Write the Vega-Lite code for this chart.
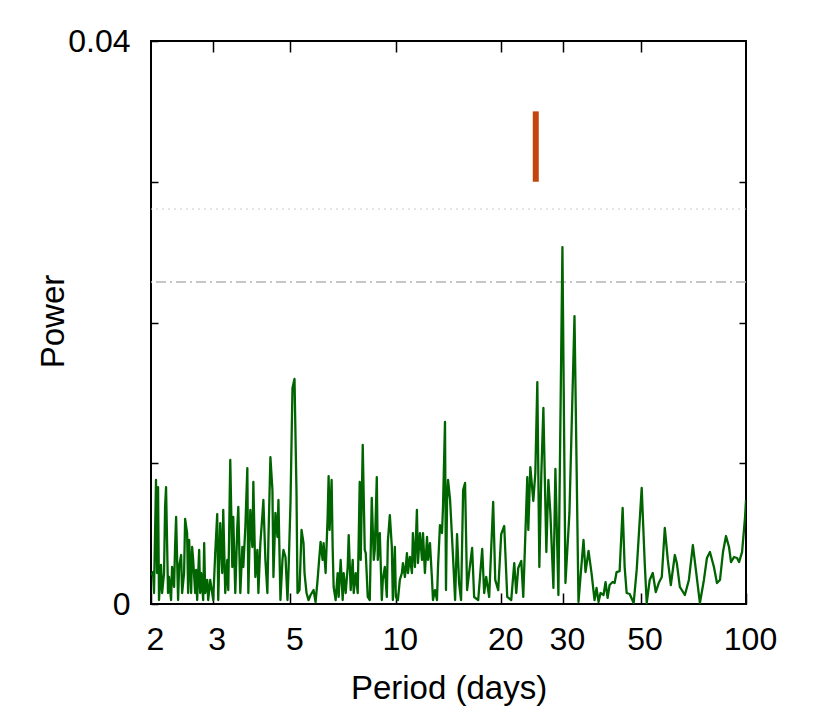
{
  "$schema": "https://vega.github.io/schema/vega-lite/v6.json",
  "width": 595,
  "height": 563,
  "autosize": {"type": "none"},
  "padding": {"left": 151, "top": 41, "right": 84, "bottom": 109},
  "background": "white",
  "config": {
    "view": {"stroke": "black", "strokeWidth": 2},
    "font": "Liberation Sans",
    "axis": {
      "domain": false, "grid": false, "tickColor": "black", "tickWidth": 1.5,
      "labelColor": "black", "titleColor": "black", "labelFont": "Liberation Sans",
      "titleFont": "Liberation Sans", "titleFontWeight": "normal", "labelFontSize": 32, "titleFontSize": 33
    }
  },
  "datasets": {
    "pg": [
      {"period": 2.000, "power": 0.00206}, {"period": 2.027, "power": 0.00227}, {"period": 2.040, "power": 0.00078},
      {"period": 2.067, "power": 0.00881}, {"period": 2.081, "power": 0.00220}, {"period": 2.095, "power": 0.00831},
      {"period": 2.108, "power": 0.00028}, {"period": 2.136, "power": 0.00277}, {"period": 2.151, "power": 0.00078},
      {"period": 2.179, "power": 0.00220}, {"period": 2.194, "power": 0.00689}, {"period": 2.208, "power": 0.00831},
      {"period": 2.237, "power": 0.00078}, {"period": 2.252, "power": 0.00192}, {"period": 2.282, "power": 0.00028},
      {"period": 2.297, "power": 0.00263}, {"period": 2.328, "power": 0.00121}, {"period": 2.343, "power": 0.00405},
      {"period": 2.359, "power": 0.00618}, {"period": 2.390, "power": 0.00028}, {"period": 2.406, "power": 0.00263},
      {"period": 2.438, "power": 0.00348}, {"period": 2.454, "power": 0.00078}, {"period": 2.486, "power": 0.00220},
      {"period": 2.503, "power": 0.00604}, {"period": 2.536, "power": 0.00504}, {"period": 2.553, "power": 0.00078},
      {"period": 2.570, "power": 0.00455}, {"period": 2.604, "power": 0.00078}, {"period": 2.621, "power": 0.00405},
      {"period": 2.639, "power": 0.00313}, {"period": 2.674, "power": 0.00078}, {"period": 2.691, "power": 0.00242},
      {"period": 2.709, "power": 0.00028}, {"period": 2.745, "power": 0.00384}, {"period": 2.763, "power": 0.00078},
      {"period": 2.782, "power": 0.00220}, {"period": 2.819, "power": 0.00028}, {"period": 2.837, "power": 0.00433},
      {"period": 2.856, "power": 0.00078}, {"period": 2.894, "power": 0.00171}, {"period": 2.913, "power": 0.00028},
      {"period": 2.952, "power": 0.00171}, {"period": 2.991, "power": 0.00078}, {"period": 3.011, "power": 0.00028},
      {"period": 3.051, "power": 0.00362}, {"period": 3.091, "power": 0.00639}, {"period": 3.112, "power": 0.00028},
      {"period": 3.153, "power": 0.00575}, {"period": 3.195, "power": 0.00220}, {"period": 3.216, "power": 0.00668},
      {"period": 3.259, "power": 0.00078}, {"period": 3.302, "power": 0.00313}, {"period": 3.324, "power": 0.00099},
      {"period": 3.368, "power": 0.01023}, {"period": 3.413, "power": 0.00263}, {"period": 3.435, "power": 0.00618},
      {"period": 3.481, "power": 0.00078}, {"period": 3.527, "power": 0.00547}, {"period": 3.551, "power": 0.00689},
      {"period": 3.598, "power": 0.00078}, {"period": 3.646, "power": 0.00405}, {"period": 3.670, "power": 0.00263},
      {"period": 3.719, "power": 0.00547}, {"period": 3.768, "power": 0.00966}, {"period": 3.793, "power": 0.00078},
      {"period": 3.843, "power": 0.00668}, {"period": 3.894, "power": 0.00405}, {"period": 3.920, "power": 0.00867},
      {"period": 3.972, "power": 0.00192}, {"period": 4.025, "power": 0.00384}, {"period": 4.052, "power": 0.00078},
      {"period": 4.105, "power": 0.00433}, {"period": 4.160, "power": 0.00632}, {"period": 4.187, "power": 0.00739},
      {"period": 4.243, "power": 0.00313}, {"period": 4.299, "power": 0.00078}, {"period": 4.328, "power": 0.00455},
      {"period": 4.385, "power": 0.01044}, {"period": 4.444, "power": 0.00810}, {"period": 4.473, "power": 0.00192},
      {"period": 4.532, "power": 0.00647}, {"period": 4.593, "power": 0.00476}, {"period": 4.623, "power": 0.00739},
      {"period": 4.684, "power": 0.00028}, {"period": 4.747, "power": 0.00313}, {"period": 4.778, "power": 0.00384},
      {"period": 4.842, "power": 0.00334}, {"period": 4.906, "power": 0.00028}, {"period": 4.938, "power": 0.00220},
      {"period": 5.004, "power": 0.00718}, {"period": 5.070, "power": 0.01535}, {"period": 5.138, "power": 0.01599},
      {"period": 5.206, "power": 0.00789}, {"period": 5.240, "power": 0.00078}, {"period": 5.310, "power": 0.00099},
      {"period": 5.381, "power": 0.00526}, {"period": 5.452, "power": 0.00433}, {"period": 5.488, "power": 0.00220},
      {"period": 5.561, "power": 0.00078}, {"period": 5.635, "power": 0.00028}, {"period": 5.710, "power": 0.00064},
      {"period": 5.824, "power": 0.00099}, {"period": 5.901, "power": 0.00014}, {"period": 5.980, "power": 0.00171},
      {"period": 6.019, "power": 0.00263}, {"period": 6.099, "power": 0.00441}, {"period": 6.180, "power": 0.00313},
      {"period": 6.221, "power": 0.00433}, {"period": 6.304, "power": 0.00220}, {"period": 6.388, "power": 0.00618},
      {"period": 6.430, "power": 0.00909}, {"period": 6.472, "power": 0.00526}, {"period": 6.558, "power": 0.00881},
      {"period": 6.602, "power": 0.00405}, {"period": 6.646, "power": 0.00121}, {"period": 6.734, "power": 0.00028},
      {"period": 6.823, "power": 0.00220}, {"period": 6.868, "power": 0.00050}, {"period": 6.960, "power": 0.00313},
      {"period": 7.052, "power": 0.00028}, {"period": 7.099, "power": 0.00220}, {"period": 7.193, "power": 0.00078},
      {"period": 7.289, "power": 0.00263}, {"period": 7.337, "power": 0.00490}, {"period": 7.434, "power": 0.00099},
      {"period": 7.533, "power": 0.00313}, {"period": 7.583, "power": 0.00078}, {"period": 7.684, "power": 0.00220},
      {"period": 7.786, "power": 0.00078}, {"period": 7.889, "power": 0.00867}, {"period": 7.941, "power": 0.00313},
      {"period": 8.047, "power": 0.01130}, {"period": 8.154, "power": 0.00384}, {"period": 8.208, "power": 0.00362},
      {"period": 8.317, "power": 0.00050}, {"period": 8.427, "power": 0.00028}, {"period": 8.539, "power": 0.00753},
      {"period": 8.653, "power": 0.00313}, {"period": 8.710, "power": 0.00384}, {"period": 8.826, "power": 0.00902},
      {"period": 8.884, "power": 0.00313}, {"period": 9.002, "power": 0.00504}, {"period": 9.122, "power": 0.00028},
      {"period": 9.182, "power": 0.00171}, {"period": 9.304, "power": 0.00263}, {"period": 9.428, "power": 0.00050},
      {"period": 9.490, "power": 0.00441}, {"period": 9.616, "power": 0.00632}, {"period": 9.744, "power": 0.00405},
      {"period": 9.808, "power": 0.00028}, {"period": 9.939, "power": 0.00405}, {"period": 10.004, "power": 0.00050},
      {"period": 10.14, "power": 0.00028}, {"period": 10.27, "power": 0.00171}, {"period": 10.41, "power": 0.00220},
      {"period": 10.48, "power": 0.00291}, {"period": 10.62, "power": 0.00192}, {"period": 10.76, "power": 0.00362},
      {"period": 10.83, "power": 0.00220}, {"period": 10.97, "power": 0.00334}, {"period": 11.12, "power": 0.00220},
      {"period": 11.19, "power": 0.00504}, {"period": 11.34, "power": 0.00263}, {"period": 11.49, "power": 0.00668},
      {"period": 11.57, "power": 0.00291}, {"period": 11.72, "power": 0.00504}, {"period": 11.88, "power": 0.00313},
      {"period": 11.96, "power": 0.00504}, {"period": 12.11, "power": 0.00220}, {"period": 12.28, "power": 0.00476},
      {"period": 12.36, "power": 0.00313}, {"period": 12.52, "power": 0.00433}, {"period": 12.69, "power": 0.00171},
      {"period": 12.77, "power": 0.00028}, {"period": 12.94, "power": 0.00099}, {"period": 13.11, "power": 0.00028},
      {"period": 13.20, "power": 0.00263}, {"period": 13.37, "power": 0.00561}, {"period": 13.55, "power": 0.00504},
      {"period": 13.64, "power": 0.00689}, {"period": 13.82, "power": 0.01293}, {"period": 13.91, "power": 0.00099},
      {"period": 14.01, "power": 0.00739}, {"period": 14.10, "power": 0.00881}, {"period": 14.29, "power": 0.00739},
      {"period": 14.57, "power": 0.00334}, {"period": 14.77, "power": 0.00028}, {"period": 14.96, "power": 0.00497},
      {"period": 15.16, "power": 0.00149}, {"period": 15.36, "power": 0.00028}, {"period": 15.57, "power": 0.00810},
      {"period": 15.77, "power": 0.00860}, {"period": 15.98, "power": 0.00099}, {"period": 16.19, "power": 0.00220},
      {"period": 16.52, "power": 0.00398}, {"period": 16.74, "power": 0.00050}, {"period": 17.19, "power": 0.00028},
      {"period": 17.65, "power": 0.00391}, {"period": 17.88, "power": 0.00078}, {"period": 18.12, "power": 0.00192},
      {"period": 18.48, "power": 0.00050}, {"period": 18.97, "power": 0.00725}, {"period": 19.23, "power": 0.00171},
      {"period": 19.61, "power": 0.00099}, {"period": 20.00, "power": 0.00497}, {"period": 20.40, "power": 0.00554},
      {"period": 20.81, "power": 0.00050}, {"period": 21.36, "power": 0.00028}, {"period": 21.79, "power": 0.00291},
      {"period": 22.08, "power": 0.00078}, {"period": 22.37, "power": 0.00256}, {"period": 22.82, "power": 0.00306},
      {"period": 23.12, "power": 0.00050}, {"period": 23.74, "power": 0.00902}, {"period": 23.90, "power": 0.00526},
      {"period": 24.22, "power": 0.00973}, {"period": 24.70, "power": 0.00732}, {"period": 25.03, "power": 0.00931},
      {"period": 25.36, "power": 0.01577}, {"period": 25.70, "power": 0.00263}, {"period": 26.04, "power": 0.00931},
      {"period": 26.39, "power": 0.01393}, {"period": 26.91, "power": 0.00369}, {"period": 27.27, "power": 0.00881},
      {"period": 27.63, "power": 0.00647}, {"period": 28.19, "power": 0.00114}, {"period": 28.56, "power": 0.00959},
      {"period": 29.13, "power": 0.00064}, {"period": 29.91, "power": 0.02536}, {"period": 30.51, "power": 0.00149},
      {"period": 31.32, "power": 0.00647}, {"period": 32.38, "power": 0.02046}, {"period": 33.24, "power": 0.00014},
      {"period": 34.36, "power": 0.00455}, {"period": 34.81, "power": 0.00227}, {"period": 35.51, "power": 0.00377},
      {"period": 36.22, "power": 0.00220}, {"period": 36.94, "power": 0.00028}, {"period": 37.43, "power": 0.00114},
      {"period": 37.93, "power": 0.00014}, {"period": 38.43, "power": 0.00078}, {"period": 39.20, "power": 0.00064},
      {"period": 39.72, "power": 0.00156}, {"period": 40.25, "power": 0.00043}, {"period": 40.79, "power": 0.00135},
      {"period": 41.60, "power": 0.00156}, {"period": 42.15, "power": 0.00149}, {"period": 42.71, "power": 0.00227},
      {"period": 43.57, "power": 0.00234}, {"period": 44.44, "power": 0.00682}, {"period": 45.03, "power": 0.00263},
      {"period": 45.63, "power": 0.00078}, {"period": 46.54, "power": 0.00071}, {"period": 47.78, "power": 0.00007},
      {"period": 48.74, "power": 0.00242}, {"period": 50.37, "power": 0.00824}, {"period": 51.38, "power": 0.00291},
      {"period": 52.06, "power": 0.00007}, {"period": 53.10, "power": 0.00171}, {"period": 54.17, "power": 0.00220},
      {"period": 55.25, "power": 0.00085}, {"period": 56.35, "power": 0.00149}, {"period": 57.48, "power": 0.00192},
      {"period": 58.63, "power": 0.00540}, {"period": 59.80, "power": 0.00313}, {"period": 61.00, "power": 0.00135},
      {"period": 62.63, "power": 0.00348}, {"period": 63.46, "power": 0.00291}, {"period": 64.73, "power": 0.00121},
      {"period": 66.90, "power": 0.00064}, {"period": 68.69, "power": 0.00171}, {"period": 70.52, "power": 0.00419},
      {"period": 71.93, "power": 0.00242}, {"period": 73.86, "power": 0.00007}, {"period": 75.83, "power": 0.00171},
      {"period": 77.35, "power": 0.00327}, {"period": 78.89, "power": 0.00369}, {"period": 81.00, "power": 0.00263},
      {"period": 82.62, "power": 0.00149}, {"period": 84.28, "power": 0.00171}, {"period": 85.96, "power": 0.00369},
      {"period": 87.68, "power": 0.00483}, {"period": 89.43, "power": 0.00405}, {"period": 90.62, "power": 0.00298},
      {"period": 92.43, "power": 0.00334}, {"period": 94.28, "power": 0.00327}, {"period": 95.53, "power": 0.00298},
      {"period": 97.44, "power": 0.00369}, {"period": 99.39, "power": 0.00618}, {"period": 100.0, "power": 0.00739}
    ],
    "fapLow": [{"power": 0.02288}],
    "fapHigh": [{"power": 0.02806}],
    "marker": [{"period": 25.1, "low": 0.0300, "high": 0.0350}]
  },
  "resolve": {"axis": {"x": "independent", "y": "independent"}},
  "layer": [
    {
      "data": {"name": "fapHigh"},
      "mark": {"type": "rule", "color": "#c8c8c8", "strokeWidth": 1, "strokeDash": [2, 4]},
      "encoding": {
        "y": {
          "field": "power", "type": "quantitative",
          "scale": {"domain": [0, 0.04], "nice": false, "zero": false},
          "axis": {"orient": "right", "values": [0.01, 0.02, 0.03], "labels": false, "tickSize": -7, "title": null}
        }
      }
    },
    {
      "data": {"name": "fapLow"},
      "mark": {"type": "rule", "color": "#b4b4b4", "strokeWidth": 1.5, "strokeDash": [10, 4, 2, 4]},
      "encoding": {
        "y": {"field": "power", "type": "quantitative", "scale": {"domain": [0, 0.04], "nice": false, "zero": false}, "axis": null}
      }
    },
    {
      "data": {"name": "pg"},
      "mark": {"type": "line", "color": "#006400", "strokeWidth": 2.3, "strokeJoin": "round", "clip": true},
      "encoding": {
        "x": {
          "field": "period", "type": "quantitative",
          "scale": {"type": "log", "domain": [2, 100], "nice": false},
          "axis": {
            "orient": "bottom", "values": [2, 3, 5, 10, 20, 30, 50, 100], "format": "d",
            "tickSize": -11, "labelPadding": 31, "labelFlush": false, "labelOffset": 4, "labelOverlap": false,
            "title": "Period (days)", "titleX": 297.5, "titleY": 94, "titleBaseline": "alphabetic", "titleAlign": "center"
          }
        },
        "y": {
          "field": "power", "type": "quantitative",
          "scale": {"domain": [0, 0.04], "nice": false, "zero": false},
          "axis": {
            "orient": "left", "values": [0, 0.01, 0.02, 0.03, 0.04],
            "labelExpr": "datum.value == 0 ? '0' : (datum.value > 0.0399 ? '0.04' : '')",
            "tickSize": -7, "labelPadding": 28, "labelFlush": false, "labelOverlap": false,
            "title": "Power", "titleX": -88, "titleY": 280, "titleBaseline": "alphabetic", "titleAlign": "center", "titleAngle": 270
          }
        }
      }
    },
    {
      "data": {"name": "marker"},
      "mark": {"type": "rule", "color": "#c4440e", "strokeWidth": 6},
      "encoding": {
        "x": {
          "field": "period", "type": "quantitative",
          "scale": {"type": "log", "domain": [2, 100], "nice": false},
          "axis": {"orient": "top", "values": [3, 5, 10, 20, 30, 50], "labels": false, "tickSize": -11, "title": null}
        },
        "y": {"field": "low", "type": "quantitative", "scale": {"domain": [0, 0.04], "nice": false, "zero": false}, "axis": null},
        "y2": {"field": "high"}
      }
    }
  ]
}
